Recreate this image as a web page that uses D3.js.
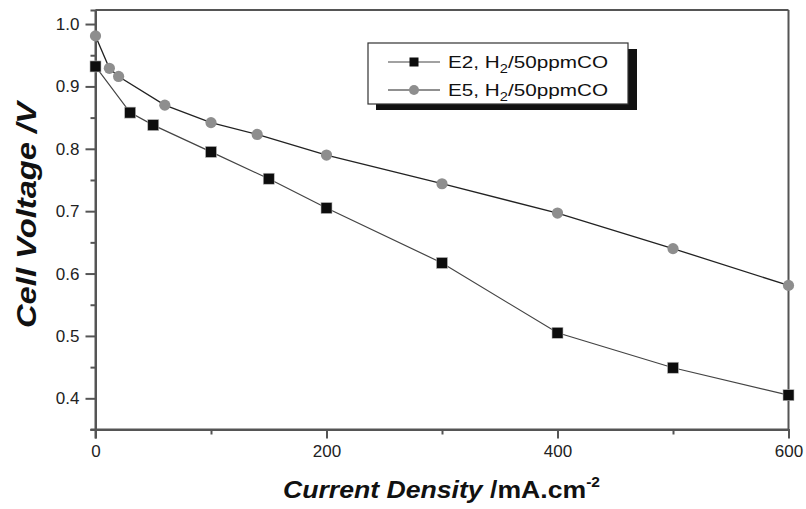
<!DOCTYPE html>
<html><head><meta charset="utf-8">
<script src="https://cdn.jsdelivr.net/npm/d3@7"></script>
<style>body{margin:0;background:#fff}svg{display:block}text{font-family:"Liberation Sans",Arial,sans-serif}</style>
</head><body>
<script>
const e2X = [0, 30, 50, 100, 150, 200, 300, 400, 500, 600];
const e2Y = [0.932, 0.858, 0.838, 0.795, 0.752, 0.705, 0.617, 0.505, 0.449, 0.405];
const e5X = [0, 12, 20, 60, 100, 140, 200, 300, 400, 500, 600];
const e5Y = [0.981, 0.929, 0.916, 0.870, 0.842, 0.823, 0.790, 0.744, 0.697, 0.640, 0.581];
const xTicks = [0, 200, 400, 600];
const xMinor = [100, 300, 500];
const yTicks = [0.4, 0.5, 0.6, 0.7, 0.8, 0.9, 1.0];
const yMinor = [0.35, 0.45, 0.55, 0.65, 0.75, 0.85, 0.95];

const W = 806, H = 509;
const L = 95.5, R = 788.5, T = 10, B = 429.5;
const svg = d3.select("body").append("svg").attr("width", W).attr("height", H);
const x = d3.scaleLinear().domain([0, 600]).range([L, R]);
const y = d3.scaleLinear().domain([0.35, 1.0225]).range([B, T]);
const axCol = "#555";

// frame top/right
svg.append("line").attr("x1", L).attr("x2", R).attr("y1", T).attr("y2", T).attr("stroke", axCol).attr("stroke-width", 2);
svg.append("line").attr("x1", R).attr("x2", R).attr("y1", T).attr("y2", B).attr("stroke", axCol).attr("stroke-width", 2);

// axes
const xAx = svg.append("g").attr("transform", `translate(0,${B})`)
  .call(d3.axisBottom(x).tickValues(xTicks).tickFormat(d3.format("d")).tickSize(9).tickPadding(6));
const xAxMin = svg.append("g").attr("transform", `translate(0,${B})`)
  .call(d3.axisBottom(x).tickValues(xMinor).tickFormat("").tickSize(5));
const yAx = svg.append("g").attr("transform", `translate(${L},0)`)
  .call(d3.axisLeft(y).tickValues(yTicks).tickFormat(d3.format(".1f")).tickSize(10).tickPadding(6));
const yAxMin = svg.append("g").attr("transform", `translate(${L},0)`)
  .call(d3.axisLeft(y).tickValues(yMinor).tickFormat("").tickSize(5));
[xAx, xAxMin, yAx, yAxMin].forEach(g => {
  g.attr("font-size", null).attr("font-family", null);
  g.select(".domain").attr("stroke", axCol).attr("stroke-width", 2);
  g.selectAll(".tick line").attr("stroke", axCol).attr("stroke-width", 2);
  g.selectAll(".tick text").attr("fill", "#222").style("font-size", "17px");
});
xAx.select(".domain").attr("d", `M${L-5},0H${R}`);
yAx.select(".domain").attr("d", `M0,${B+9}V${T}`);

// lines
const e2 = e2X.map((d, i) => [d, e2Y[i]]);
const e5 = e5X.map((d, i) => [d, e5Y[i]]);
const line = d3.line().x(d => x(d[0])).y(d => y(d[1]));
svg.append("path").datum(e2).attr("d", line).attr("fill", "none").attr("stroke", "#444").attr("stroke-width", 1.2);
svg.append("path").datum(e5).attr("d", line).attr("fill", "none").attr("stroke", "#222").attr("stroke-width", 1.3);

const sq = 11, cr = 5.6;
svg.append("g").selectAll("rect").data(e2).join("rect")
  .attr("x", d => x(d[0]) - sq/2).attr("y", d => y(d[1]) - sq/2).attr("width", sq).attr("height", sq)
  .attr("fill", "#0d0d0d").attr("stroke", "#bbb").attr("stroke-width", 0.6);
svg.append("g").selectAll("circle").data(e5).join("circle")
  .attr("cx", d => x(d[0])).attr("cy", d => y(d[1])).attr("r", cr)
  .attr("fill", "#8e8e8e");

// legend
const lg = svg.append("g");
lg.append("rect").attr("x", 376).attr("y", 49).attr("width", 261).attr("height", 61).attr("fill", "#111");
lg.append("rect").attr("x", 368).attr("y", 43).attr("width", 260).attr("height", 61).attr("fill", "#fff").attr("stroke", "#333").attr("stroke-width", 1.2);
const items = [{n: "E2", ty: 62, sym: "sq"}, {n: "E5", ty: 90, sym: "ci"}];
items.forEach(it => {
  lg.append("line").attr("x1", 388).attr("x2", 440).attr("y1", it.ty).attr("y2", it.ty)
    .attr("stroke", it.sym === "sq" ? "#444" : "#222").attr("stroke-width", 1.2);
  if (it.sym === "sq") lg.append("rect").attr("x", 414 - 4.5).attr("y", it.ty - 4.5).attr("width", 9).attr("height", 9).attr("fill", "#0d0d0d");
  else lg.append("circle").attr("cx", 414).attr("cy", it.ty).attr("r", 5).attr("fill", "#8e8e8e");
  const t = lg.append("text").attr("x", 448).attr("y", it.ty + 6).attr("fill", "#111")
    .style("font-size", "17px").attr("textLength", 160).attr("lengthAdjust", "spacingAndGlyphs");
  t.append("tspan").text(it.n + ", H");
  t.append("tspan").attr("dy", 5).style("font-size", "12px").text("2");
  t.append("tspan").attr("dy", -5).text("/50ppmCO");
});

// axis titles
const xt = svg.append("text").attr("x", 283).attr("y", 498)
  .attr("fill", "#111").style("font-size", "24px").style("font-weight", "bold")
  .attr("textLength", 317).attr("lengthAdjust", "spacingAndGlyphs");
xt.append("tspan").style("font-style", "italic").text("Current Density");
xt.append("tspan").text(" /mA.cm");
xt.append("tspan").attr("dy", -11).style("font-size", "14px").text("-2");

svg.append("text").attr("transform", `translate(36,215) rotate(-90)`).attr("text-anchor", "middle")
  .attr("fill", "#111").style("font-size", "27px").style("font-weight", "bold").style("font-style", "italic")
  .attr("textLength", 226).attr("lengthAdjust", "spacingAndGlyphs")
  .text("Cell Voltage /V");
</script>
</body></html>
